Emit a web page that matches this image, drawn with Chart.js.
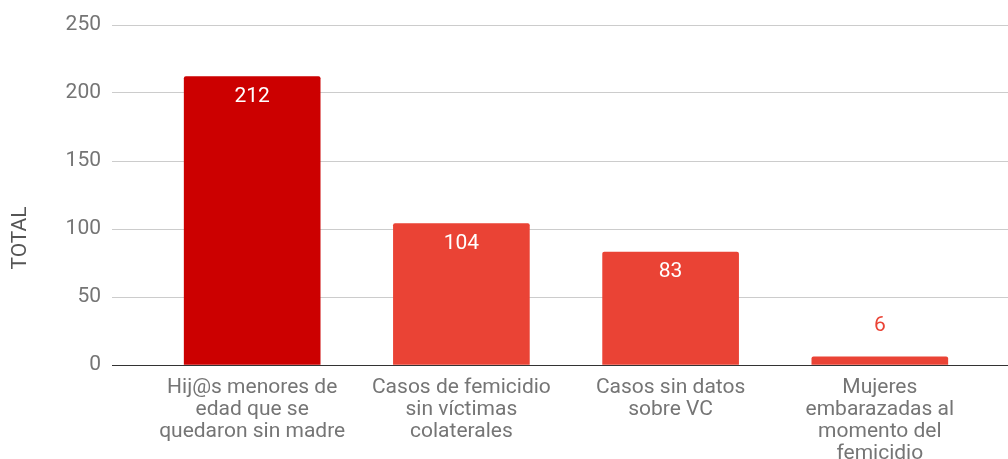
<!DOCTYPE html>
<html>
<head>
<meta charset="utf-8">
<script src="https://cdn.jsdelivr.net/npm/chart.js@4.4.1/dist/chart.umd.min.js"></script>
<style>
  html, body { margin: 0; padding: 0; overflow: hidden; background: #fff; }
</style>
</head>
<body>
<canvas id="chart" width="1020" height="459"></canvas>
<script>
const categories = [
    ['Hij@s menores de', 'edad que se', 'quedaron sin madre'],
    ['Casos de femicidio', 'sin víctimas', 'colaterales'],
    ['Casos sin datos', 'sobre VC'],
    ['Mujeres', 'embarazadas al', 'momento del', 'femicidio']
];
const totals = [212, 104, 83, 6];
const barColors = ['#cc0000', '#ea4335', '#ea4335', '#ea4335'];
const yTicks = [0, 50, 100, 150, 200, 250];
const yTitle = 'TOTAL';

const FONT = 'Roboto';

// value labels: white inside tall bars, coloured above short ones
// plus the vertical axis title, centred on the whole canvas like the original
const valueLabels = {
    id: 'valueLabels',
    afterDatasetsDraw: (chart) => {
        const ctx = chart.ctx;
        const meta = chart.getDatasetMeta(0);
        ctx.save();
        ctx.font = '21px ' + FONT;
        ctx.textAlign = 'center';
        ctx.textBaseline = 'middle';
        meta.data.forEach((bar, i) => {
            const h = bar.base - bar.y;
            if (h > 40) {
                ctx.fillStyle = '#ffffff';
                ctx.fillText(String(totals[i]), bar.x, bar.y + 20);
            } else {
                ctx.fillStyle = barColors[i];
                ctx.fillText(String(totals[i]), bar.x, bar.y - 31);
            }
        });

        ctx.translate(21, 238);
        ctx.rotate(-Math.PI / 2);
        ctx.fillStyle = '#555555';
        ctx.fillText(yTitle, 0, 0);
        ctx.restore();
    }
};

new Chart(document.getElementById('chart').getContext('2d'), {
    type: 'bar',
    data: {
        datasets: [{
            data: totals.map((v, i) => ({ x: i, y: v })),
            backgroundColor: barColors,
            barThickness: 136,
            borderRadius: 2,
            borderSkipped: 'start'
        }]
    },
    options: {
        responsive: false,
        animation: false,
        layout: { padding: { top: 25, left: 0, right: 0, bottom: 0 } },
        plugins: {
            legend: { display: false },
            tooltip: { enabled: false }
        },
        scales: {
            x: {
                type: 'linear',
                offset: false,
                min: -0.67,
                max: 3.67,
                afterBuildTicks: (scale) => {
                    scale.ticks = categories.map((_, i) => ({ value: i }));
                },
                afterFit: (scale) => { scale.height = 94; },
                grid: { display: false, drawTicks: false },
                border: { display: false },
                ticks: {
                    autoSkip: false,
                    maxRotation: 0,
                    padding: 12,
                    color: '#757575',
                    font: { family: FONT, size: 21, lineHeight: 1.04 },
                    callback: (value) => categories[value] || ''
                }
            },
            y: {
                min: yTicks[0],
                max: yTicks[yTicks.length - 1],
                afterBuildTicks: (scale) => {
                    scale.ticks = yTicks.map(v => ({ value: v }));
                },
                afterFit: (scale) => { scale.width = 112; },
                grid: {
                    drawTicks: false,
                    color: (c) => c.tick && c.tick.value === 0 ? '#333333' : '#cccccc'
                },
                border: { display: false },
                ticks: {
                    padding: 11,
                    color: '#757575',
                    font: { family: FONT, size: 21 }
                }
            }
        }
    },
    plugins: [valueLabels]
});
</script>
</body>
</html>
